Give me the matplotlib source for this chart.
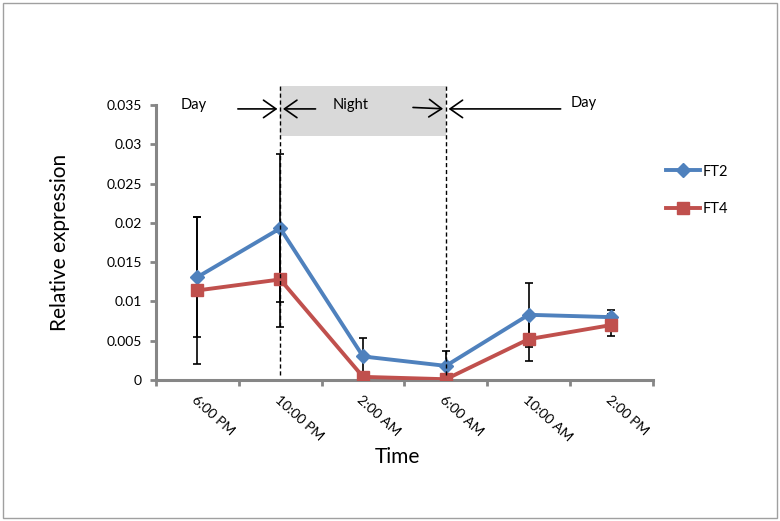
import matplotlib
matplotlib.use("Agg")
import matplotlib.pyplot as plt
from matplotlib.patches import Rectangle

plt.rcParams['font.family'] = ['Lato', 'DejaVu Sans']

times = ["6:00 PM", "10:00 PM", "2:00 AM", "6:00 AM", "10:00 AM", "2:00 PM"]
ft2 = [0.0131, 0.0193, 0.0030, 0.0018, 0.0083, 0.0080]
ft2_err = [0.0076, 0.0094, 0.0024, 0.0019, 0.0041, 0.0009]
ft4 = [0.0114, 0.0128, 0.0004, 0.0001, 0.0052, 0.0070]
ft4_err = [0.0094, 0.0060, 0.0003, 0.0002, 0.0028, 0.0014]
yticks = [0, 0.005, 0.01, 0.015, 0.02, 0.025, 0.03, 0.035]
ytick_labels = ["0", "0.005", "0.01", "0.015", "0.02", "0.025", "0.03", "0.035"]

blue = "#4F81BD"
red = "#C0504D"
grey = "#868686"

fig = plt.figure(figsize=(7.8, 5.21), dpi=100)
# outer frame
fig.patches.append(Rectangle((0.004, 0.006), 0.992, 0.988, transform=fig.transFigure,
                             fill=False, edgecolor="#A0A0A0", linewidth=1))
ax = fig.add_axes([0.2, 0.2706, 0.637, 0.5279])

x = list(range(len(times)))

ax.errorbar(x, ft2, yerr=ft2_err, fmt='none', ecolor='black', elinewidth=1.2,
            capsize=3, capthick=1.2, zorder=3)
ax.errorbar(x, ft4, yerr=ft4_err, fmt='none', ecolor='black', elinewidth=1.2,
            capsize=3, capthick=1.2, zorder=3)
ax.plot(x, ft2, color=blue, lw=2.8, marker='D', markersize=7, label='FT2', zorder=4)
ax.plot(x, ft4, color=red, lw=2.8, marker='s', markersize=8.5, label='FT4', zorder=4)

ax.set_xlim(-0.5, 5.5)
ax.set_ylim(0, 0.035)

# night shading and dividers (extend above axes)
ax.add_patch(Rectangle((1, 0.0311), 2, 0.0063, facecolor="#D9D9D9", edgecolor='none',
                       clip_on=False, zorder=0))
for xv in (1, 3):
    ax.plot([xv, xv], [0.0007, 0.0374], color='black', ls=(0, (3, 2)), lw=1.0,
            clip_on=False, zorder=5)

ya = 0.0345
arrow_kw = dict(arrowstyle='->,head_length=0.5,head_width=0.35', color='black', lw=1.2,
                mutation_scale=18)
ax.annotate("", xy=(1, ya), xytext=(0.455, ya), arrowprops=arrow_kw, annotation_clip=False)
ax.annotate("", xy=(1, ya), xytext=(1.46, ya), arrowprops=arrow_kw, annotation_clip=False)
ax.annotate("", xy=(3, ya), xytext=(2.57, ya + 0.0002), arrowprops=arrow_kw, annotation_clip=False)
ax.annotate("", xy=(3, ya), xytext=(4.42, ya), arrowprops=arrow_kw, annotation_clip=False)
ax.text(-0.05, 0.0350, "Day", ha='center', va='center', fontsize=10.5)
ax.text(1.85, 0.0350, "Night", ha='center', va='center', fontsize=10.5)
ax.text(4.67, 0.0352, "Day", ha='center', va='center', fontsize=10.5)

for s in ('top', 'right'):
    ax.spines[s].set_visible(False)
for s in ('left', 'bottom'):
    ax.spines[s].set_color(grey)
    ax.spines[s].set_linewidth(2.2)

ax.set_yticks(yticks)
ax.set_yticklabels(ytick_labels, fontsize=10)
ax.tick_params(axis='y', direction='out', length=4, width=2, color=grey, pad=6)

ax.set_xticks([i - 0.5 for i in range(len(times) + 1)])
ax.set_xticklabels([])
ax.tick_params(axis='x', which='major', direction='out', length=4, width=2, color=grey)
ax.set_xticks(x, minor=True)
ax.set_xticklabels(times, minor=True, rotation=-42, ha='left', va='top',
                   rotation_mode='anchor', fontsize=10)
ax.tick_params(axis='x', which='minor', length=0, pad=10)

ax.set_ylabel("Relative expression", fontsize=15, va='center')
ax.yaxis.set_label_coords(-0.193, 0.5)
ax.set_xlabel("Time", fontsize=15, va='center')
ax.xaxis.set_label_coords(0.485, -0.28)

leg = ax.legend(loc='center left', bbox_to_anchor=(1.0, 0.69), frameon=False,
                fontsize=10.5, handlelength=2.3, labelspacing=1.6, handletextpad=0.2)

fig.savefig("out.png", dpi=100)
